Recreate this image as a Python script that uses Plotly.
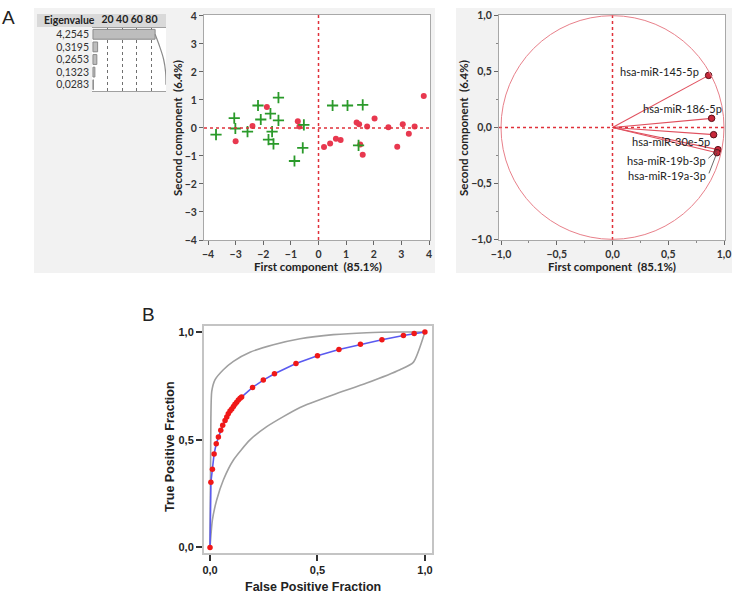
import plotly.graph_objects as go

# ---------------- DATA ----------------
eigenvalues = [4.2545, 0.3195, 0.2653, 0.1323, 0.0283]
eig_ticks = [20, 40, 60, 80]

# PCA score plot: two groups
green_x = [-3.71, -3.05, -3.01, -2.57, -2.19, -2.09, -1.74, -1.45, -1.45, -1.68, -1.81, -1.63, -0.87, -0.57, -0.53, 0.51, 1.05, 1.60, 1.45]
green_y = [-0.24, 0.35, -0.02, -0.13, 0.80, 0.30, 0.51, 1.08, 0.27, -0.13, -0.42, -0.57, -1.18, -0.71, 0.11, 0.80, 0.80, 0.82, -0.62]
red_x = [-3.00, -2.39, -1.87, -0.75, -0.69, 0.20, 0.42, 0.63, 0.80, 1.38, 1.47, 1.51, 1.60, 1.76, 2.03, 2.53, 2.85, 3.05, 3.27, 3.48, 3.81]
red_y = [-0.48, 0.07, 0.75, 0.24, 0.05, -0.68, -0.56, -0.39, -0.43, 0.19, 0.13, -0.59, -0.96, 0.05, 0.34, 0.02, -0.67, 0.13, -0.21, 0.05, 1.14]
score_ticks = [-4, -3, -2, -1, 0, 1, 2, 3, 4]

# Loading plot
mirna = ["hsa-miR-145-5p", "hsa-miR-186-5p", "hsa-miR-30e-5p", "hsa-miR-19b-3p", "hsa-miR-19a-3p"]
load_x = [0.862, 0.889, 0.907, 0.946, 0.937]
load_y = [0.466, 0.082, -0.064, -0.198, -0.225]
load_ticks = [-1.0, -0.5, 0.0, 0.5, 1.0]

# ROC curve
roc_fpr = [0.0, 0.004, 0.011, 0.019, 0.029, 0.039, 0.050, 0.059, 0.070, 0.078, 0.085, 0.093, 0.101, 0.109,
           0.116, 0.124, 0.132, 0.140, 0.147, 0.198, 0.248, 0.300, 0.400, 0.500, 0.600, 0.700, 0.800, 0.900, 0.950, 1.0]
roc_tpr = [0.0, 0.302, 0.363, 0.434, 0.481, 0.513, 0.544, 0.567, 0.589, 0.606, 0.620, 0.633, 0.643, 0.654,
           0.665, 0.674, 0.684, 0.692, 0.698, 0.743, 0.777, 0.806, 0.854, 0.890, 0.919, 0.943, 0.964, 0.984, 0.993, 1.0]
ci_up_fpr = [0.0, 0.004, 0.008, 0.023, 0.062, 0.109, 0.186, 0.295, 0.419, 0.574, 0.729, 0.88, 1.0]
ci_up_tpr = [0.0, 0.60, 0.724, 0.778, 0.825, 0.864, 0.906, 0.941, 0.969, 0.988, 0.997, 1.0, 1.0]
ci_lo_fpr = [0.0, 0.011, 0.031, 0.062, 0.109, 0.186, 0.264, 0.419, 0.574, 0.729, 0.884, 0.946, 1.0]
ci_lo_tpr = [0.0, 0.127, 0.220, 0.313, 0.406, 0.499, 0.561, 0.650, 0.709, 0.763, 0.825, 0.859, 1.0]
roc_ticks = [0.0, 0.5, 1.0]

# ---------------- LAYOUT HELPERS ----------------
W, H = 732, 594
def fx(p):
    return p / W
def fy(p):
    return 1 - p / H

GRAY_PANEL = "#f2f2f2"
DOT_RED = "#e0303a"
FONT = "Lato"

pct = [e / sum(eigenvalues) * 100 for e in eigenvalues]
cum = []
s = 0
for p in pct:
    s += p
    cum.append(s)
eig_labels = [f"{e:.4f}".replace(".", ",") for e in eigenvalues]
rows = list(range(len(eigenvalues)))

fig = go.Figure()

# Eigenvalue bars
fig.add_trace(go.Bar(x=pct, y=rows, orientation="h", xaxis="x4", yaxis="y4", width=0.78,
                     marker=dict(color="#bdbdbd", line=dict(color="#8a8a8a", width=1)), showlegend=False))
fig.add_trace(go.Scatter(x=cum, y=rows, xaxis="x4", yaxis="y4", mode="lines",
                         line=dict(color="#8a8a8a", width=1.2, shape="spline"), showlegend=False))

# Score plot
fig.add_trace(go.Scatter(x=red_x, y=red_y, mode="markers", xaxis="x", yaxis="y",
                         marker=dict(color="#e8384f", size=6), showlegend=False))
fig.add_trace(go.Scatter(x=green_x, y=green_y, mode="markers", xaxis="x", yaxis="y",
                         marker=dict(symbol="cross-thin", size=8, line=dict(color="#2a9a2a", width=1.8)),
                         showlegend=False))

# Loading plot lines
lx, ly = [], []
for a, b in zip(load_x, load_y):
    lx += [0, a, None]
    ly += [0, b, None]
fig.add_trace(go.Scatter(x=lx, y=ly, mode="lines", xaxis="x2", yaxis="y2",
                         line=dict(color="#e0505e", width=1.1), showlegend=False))
fig.add_trace(go.Scatter(x=load_x, y=load_y, mode="markers", xaxis="x2", yaxis="y2",
                         marker=dict(color="#c8283a", size=6.5, line=dict(color="#5a1018", width=1)),
                         showlegend=False))

# ROC
fig.add_trace(go.Scatter(x=ci_up_fpr, y=ci_up_tpr, mode="lines", xaxis="x3", yaxis="y3",
                         line=dict(color="#a0a0a0", width=1.6, shape="spline", smoothing=0.6), showlegend=False))
fig.add_trace(go.Scatter(x=ci_lo_fpr, y=ci_lo_tpr, mode="lines", xaxis="x3", yaxis="y3",
                         line=dict(color="#a0a0a0", width=1.6, shape="spline", smoothing=0.6), showlegend=False))
fig.add_trace(go.Scatter(x=roc_fpr, y=roc_tpr, mode="lines+markers", xaxis="x3", yaxis="y3",
                         line=dict(color="#5a5af0", width=1.6),
                         marker=dict(color="#f01818", size=5.5), showlegend=False))

tick_small = dict(family=FONT, size=10.5, color="#333333", weight=700)
frame = dict(showline=True, mirror=True, linecolor="#a8a8a8", linewidth=1, showgrid=False, zeroline=False,
             ticks="outside", ticklen=4, tickcolor="#666666", tickfont=tick_small, automargin=False)

roc_font = dict(family="Liberation Sans", size=11, color="#222222", weight="bold")
roc_frame = dict(showline=True, mirror=True, linecolor="#c4c4c4", linewidth=2, showgrid=False, zeroline=False,
                 ticks="outside", ticklen=6, tickcolor="#333333", tickwidth=1.5, tickfont=roc_font,
                 tickvals=roc_ticks, tickformat=".1f", automargin=False)

fig.update_layout(
    width=W, height=H, autosize=False, margin=dict(l=0, r=0, t=0, b=0, autoexpand=False),
    paper_bgcolor="white", plot_bgcolor="white", separators=",.",
    xaxis=dict(domain=[fx(204), fx(430)], range=[-4.145, 4.036], tickvals=score_ticks, anchor="y", **frame),
    yaxis=dict(domain=[fy(240), fy(15)], range=[-4.0, 4.03], tickvals=score_ticks, anchor="x", **frame),
    xaxis2=dict(domain=[fx(499), fx(725)], range=[-1.018, 1.009], tickvals=load_ticks, tickformat=".1f",
                anchor="y2", minor=dict(dtick=0.25, ticks="outside", ticklen=2, tickcolor="#888"), **frame),
    yaxis2=dict(domain=[fy(240), fy(15)], range=[-1.006, 1.006], tickvals=load_ticks, tickformat=".1f",
                anchor="x2", minor=dict(dtick=0.25, ticks="outside", ticklen=2, tickcolor="#888"), **frame),
    xaxis3=dict(domain=[fx(204), fx(432)], range=[-0.028, 1.033], anchor="y3", **roc_frame),
    yaxis3=dict(domain=[fy(553), fy(326)], range=[-0.026, 1.028], anchor="x3", **roc_frame),
    xaxis4=dict(domain=[fx(92), fx(166)], range=[-1.3, 100], side="top", tickvals=eig_ticks, anchor="y4",
                showline=True, mirror=True, linecolor="#a0a0a0", linewidth=1, zeroline=False,
                showgrid=True, gridcolor="#707070", griddash="dot", gridwidth=1, ticks="",
                tickfont=dict(family=FONT, size=10.5, color="#222", weight=700), ticklabelstandoff=0,
                automargin=False),
    yaxis4=dict(domain=[fy(91), fy(28)], range=[4.5, -0.5], tickvals=rows, ticktext=eig_labels, anchor="x4",
                showline=False, showgrid=False, zeroline=False, ticks="",
                tickfont=dict(family=FONT, size=10.5, color="#333"), ticklabelstandoff=2, automargin=False),
)

shapes = [
    dict(type="rect", xref="paper", yref="paper", x0=fx(34), x1=fx(435), y0=fy(273), y1=fy(8),
         fillcolor=GRAY_PANEL, line=dict(width=0), layer="below"),
    dict(type="rect", xref="paper", yref="paper", x0=fx(456), x1=fx(732), y0=fy(273), y1=fy(8),
         fillcolor=GRAY_PANEL, line=dict(width=0), layer="below"),
    dict(type="rect", xref="paper", yref="paper", x0=fx(37), x1=fx(166), y0=fy(27), y1=fy(14),
         fillcolor="#d9d9d9", line=dict(width=0), layer="below"),
    # white plotting areas over the gray panels
    dict(type="rect", xref="paper", yref="paper", x0=fx(92), x1=fx(166), y0=fy(91), y1=fy(28),
         fillcolor="white", line=dict(width=0), layer="below"),
    dict(type="rect", xref="paper", yref="paper", x0=fx(204), x1=fx(430), y0=fy(240), y1=fy(15),
         fillcolor="white", line=dict(width=0), layer="below"),
    dict(type="rect", xref="paper", yref="paper", x0=fx(499), x1=fx(725), y0=fy(240), y1=fy(15),
         fillcolor="white", line=dict(width=0), layer="below"),
    # dotted zero lines
    dict(type="line", xref="x", yref="y", x0=0, x1=0, y0=-4.0, y1=4.03, line=dict(color=DOT_RED, width=1.5, dash="dot")),
    dict(type="line", xref="x", yref="y", x0=-4.145, x1=4.036, y0=0, y1=0, line=dict(color=DOT_RED, width=1.5, dash="dot")),
    dict(type="line", xref="x2", yref="y2", x0=0, x1=0, y0=-1.006, y1=1.006, line=dict(color=DOT_RED, width=1.5, dash="dot")),
    dict(type="line", xref="x2", yref="y2", x0=-1.018, x1=1.009, y0=0, y1=0, line=dict(color=DOT_RED, width=1.5, dash="dot")),
    # correlation circle
    dict(type="circle", xref="x2", yref="y2", x0=-1, x1=1, y0=-1, y1=1, line=dict(color="#e8808a", width=1)),
]

# loading labels (positions: right edge of text, centre y)
label_pos = [(0.79, 0.50), (0.997, 0.171), (0.895, -0.124), (0.853, -0.291), (0.856, -0.431)]
annotations = []
for name, (tx, ty) in zip(mirna, label_pos):
    annotations.append(dict(x=tx, y=ty, xref="x2", yref="y2", text=name, showarrow=False, xanchor="right",
                            yanchor="middle", font=dict(family=FONT, size=11, color="#222")))
# leader lines for 19b / 19a
for i, (sx, sy) in [(3, (0.86, -0.275)), (4, (0.865, -0.41))]:
    shapes.append(dict(type="line", xref="x2", yref="y2", x0=sx, y0=sy, x1=load_x[i], y1=load_y[i],
                       line=dict(color="#444", width=0.8)))

def txt(x, y, s, size, weight=700, angle=0, family=FONT, color="#222"):
    annotations.append(dict(x=fx(x), y=fy(y), xref="paper", yref="paper", text=s, showarrow=False,
                            xanchor="center", yanchor="middle", textangle=angle,
                            font=dict(family=family, size=size, color=color, weight=weight)))

txt(8, 18, "A", 19, weight=400, family="Liberation Sans")
txt(148, 314, "B", 19, weight=400, family="Liberation Sans")
annotations.append(dict(x=fx(42), y=fy(20.5), xref="paper", yref="paper", text="Eigenvalue", showarrow=False,
                        xanchor="left", yanchor="middle", font=dict(family=FONT, size=10.5, color="#222", weight=700)))
txt(318, 266, "First component  (85.1%)", 11.5)
txt(177, 128, "Second component  (6.4%)", 11.5, angle=-90)
txt(612, 266, "First component  (85.1%)", 11.5)
txt(463, 128, "Second component  (6.4%)", 11.5, angle=-90)
txt(313, 587, "False Positive Fraction", 12.5, weight="bold", family="Liberation Sans")
txt(170, 447, "True Positive Fraction", 12.5, weight="bold", angle=-90, family="Liberation Sans")

fig.update_layout(shapes=shapes, annotations=annotations)
fig.write_html("out.html", config={"displayModeBar": False},
               post_script="document.body.style.margin='0px';document.body.style.padding='0px';")
